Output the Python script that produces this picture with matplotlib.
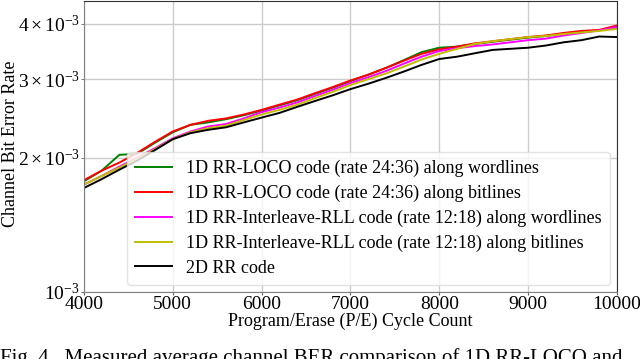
import numpy as np
import matplotlib
matplotlib.use("Agg")
import matplotlib.pyplot as plt

plt.rcParams['font.family'] = ['Liberation Serif', 'DejaVu Serif']
plt.rcParams['mathtext.fontset'] = 'stix'

# P/E cycle counts shared by every series
pe_cycles = list(range(4000, 10001, 200))

# Channel BER values (x 1e-3)
ber_loco_wl = [1.77, 1.87, 2.03, 2.04, 2.16, 2.28, 2.37, 2.40, 2.44, 2.49, 2.55,
               2.62, 2.69, 2.78, 2.87, 2.97, 3.07, 3.18, 3.31, 3.45, 3.53, 3.55,
               3.60, 3.64, 3.68, 3.72, 3.75, 3.80, 3.83, 3.86, 3.92]
ber_loco_bl = [1.78, 1.87, 1.95, 2.05, 2.17, 2.29, 2.37, 2.42, 2.45, 2.50, 2.56,
               2.63, 2.70, 2.79, 2.88, 2.98, 3.07, 3.18, 3.30, 3.42, 3.50, 3.55,
               3.61, 3.65, 3.69, 3.73, 3.76, 3.81, 3.85, 3.87, 3.96]
ber_rll_wl = [1.74, 1.82, 1.91, 2.00, 2.10, 2.21, 2.29, 2.35, 2.38, 2.45, 2.53,
              2.59, 2.66, 2.75, 2.84, 2.94, 3.03, 3.13, 3.25, 3.37, 3.47, 3.52,
              3.56, 3.59, 3.63, 3.67, 3.70, 3.76, 3.81, 3.86, 3.93]
ber_rll_bl = [1.74, 1.82, 1.90, 1.99, 2.09, 2.20, 2.28, 2.33, 2.36, 2.43, 2.50,
              2.56, 2.63, 2.72, 2.81, 2.91, 3.00, 3.09, 3.20, 3.32, 3.42, 3.51,
              3.60, 3.65, 3.69, 3.73, 3.75, 3.79, 3.82, 3.85, 3.89]
ber_2d = [1.71, 1.79, 1.88, 1.97, 2.08, 2.20, 2.27, 2.31, 2.34, 2.40, 2.46,
          2.52, 2.60, 2.68, 2.76, 2.85, 2.93, 3.02, 3.12, 3.23, 3.33, 3.37,
          3.43, 3.49, 3.51, 3.53, 3.57, 3.63, 3.67, 3.74, 3.73]

labels = ['1D RR-LOCO code (rate 24:36) along wordlines',
          '1D RR-LOCO code (rate 24:36) along bitlines',
          '1D RR-Interleave-RLL code (rate 12:18) along wordlines',
          '1D RR-Interleave-RLL code (rate 12:18) along bitlines',
          '2D RR code']
colors = ['green', 'red', 'magenta', 'y', 'black']

fig = plt.figure(figsize=(6.4, 3.59), dpi=100)
ax = fig.add_axes([0.131, 0.187, 0.833, 0.811])

for ys, lab, c in zip([ber_loco_wl, ber_loco_bl, ber_rll_wl, ber_rll_bl, ber_2d],
                      labels, colors):
    ax.plot(pe_cycles, np.array(ys) * 1e-3, color=c, lw=1.4, label=lab)

ax.set_yscale('log')
ax.set_xlim(4000, 10000)
ax.set_ylim(1e-3, 4.5e-3)
ax.set_xticks(range(4000, 10001, 1000))
ax.grid(True, which='both', color='#cccccc', lw=1.0)
ax.set_axisbelow(True)
ax.tick_params(labelsize=14, length=2, pad=1, color='#666666', which='both')

for side in ['left', 'bottom']:
    ax.spines[side].set_color('#808080')
for side in ['top', 'right']:
    ax.spines[side].set_color('#333333')

ax.set_xlabel('Program/Erase (P/E) Cycle Count', fontsize=13, labelpad=0)
ax.set_ylabel('Channel Bit Error Rate', fontsize=13)
ax.yaxis.set_label_coords(-0.122, 0.51)

ax.legend(loc='lower right', fontsize=13, framealpha=0.8, edgecolor='#dddddd',
          handlelength=2.0, handletextpad=0.8, borderpad=0.45,
          borderaxespad=0.4, labelspacing=0.42)

fig.text(0.0, 0.03, 'Fig. 4.  Measured average channel BER comparison of 1D RR-LOCO and',
         fontsize=15, va='top', ha='left')

fig.savefig('out.png', dpi=100)
